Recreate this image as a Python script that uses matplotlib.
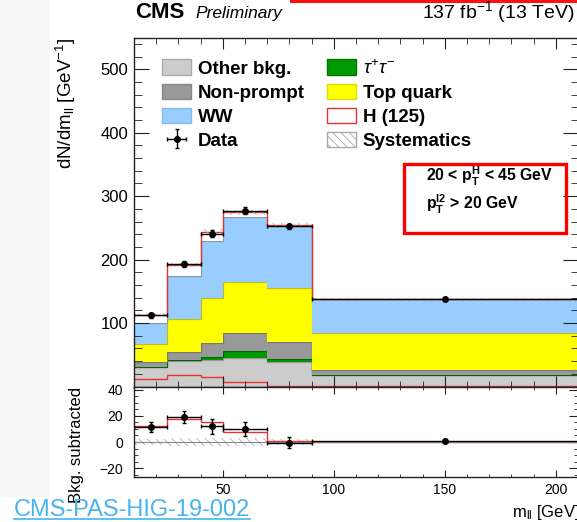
import numpy as np
import matplotlib.pyplot as plt
from matplotlib.patches import Patch, Rectangle
from matplotlib.lines import Line2D
from matplotlib.ticker import MultipleLocator

plt.rcParams['font.family'] = ['Liberation Sans', 'DejaVu Sans']
plt.rcParams['mathtext.fontset'] = 'custom'
plt.rcParams['mathtext.rm'] = 'Liberation Sans'
plt.rcParams['mathtext.it'] = 'Liberation Sans:italic'
plt.rcParams['mathtext.bf'] = 'Liberation Sans:bold'
plt.rcParams['hatch.linewidth'] = 0.6

# m_ll binning [GeV] and per-bin yields (dN/dm_ll)
edges = [10, 25, 40, 50, 70, 90, 210]
other = [31, 40, 42, 45, 38, 18]
tautau = [0.5, 1, 4, 11, 6, 0.5]
nonprompt = [7.5, 14, 23, 28, 25.5, 7.5]
top = [28, 52, 71, 80, 85, 58]
ww = [33.5, 67, 89, 103, 98.5, 53.5]
higgs = [12.5, 17.6, 15.1, 7.4, 1.0, 0.2]
data = [112, 193, 241, 277, 252.5, 138]
data_err = [3.5, 4.4, 5.7, 5.1, 4.2, 1.2]
syst = [2.5, 3, 3.5, 3.5, 3.5, 1.5]
syst_sub = [2.5, 3, 3, 3, 2.5, 0.3]

W, H = 577, 522
fx = lambda x: x / W
fy = lambda y: 1 - y / H

edges = np.array(edges, dtype=float)
centers = 0.5 * (edges[1:] + edges[:-1])
halfw = 0.5 * (edges[1:] - edges[:-1])

fig = plt.figure(figsize=(W / 100, H / 100), dpi=100)
fig.add_artist(Rectangle((0, fy(497)), fx(50), 497 / H, transform=fig.transFigure,
                         fc='#f7f7f7', lw=0, zorder=-5))

ax = fig.add_axes([fx(134), fy(386.5), (578 - 134) / W, (386.5 - 37.5) / H])
rax = fig.add_axes([fx(134), fy(477.3), (578 - 134) / W, (477.3 - 386.5) / H])

red = '#e8312f'
hatch = '\\\\\\\\'

# stacked backgrounds
stack = [(other, '#cccccc', '#9a9a9a'),
         (tautau, '#009900', '#006600'),
         (nonprompt, '#999999', '#777777'),
         (top, '#ffff00', '#bdbd2a'),
         (ww, '#99ccff', '#8098b0')]
base = np.zeros(len(centers))
for vals, fc, ec in stack:
    upper = base + np.array(vals)
    ax.stairs(upper, edges, baseline=base, fill=True, color=fc, lw=0)
    ax.stairs(upper, edges, baseline=None, color=ec, lw=0.9)
    base = upper
bkg = base.copy()

total = bkg + np.array(higgs)
ax.stairs(total, edges, baseline=bkg, fill=True, color='white', lw=0)
ax.stairs(total, edges, baseline=None, color=red, lw=1.0)
ax.stairs(total + np.array(syst), edges, baseline=total - np.array(syst), fill=True,
          facecolor='none', edgecolor='#b0b0b0', hatch=hatch, lw=0)
ax.stairs(higgs, edges, baseline=None, color=red, lw=1.0)

eb = ax.errorbar(centers, data, xerr=halfw, yerr=data_err, fmt='o', color='black',
                 ms=4, lw=1, capsize=1.5, zorder=5)

# bottom panel: data minus background
sub = np.array(data) - bkg
rax.stairs(np.array(syst_sub), edges, baseline=-np.array(syst_sub), fill=True,
           facecolor='none', edgecolor='#b0b0b0', hatch=hatch, lw=0)
rax.axhline(0, color='#888888', lw=0.8)
rax.stairs(higgs, edges, baseline=None, color=red, lw=1.0)
rax.errorbar(centers, sub, xerr=halfw, yerr=data_err, fmt='o', color='black',
             ms=4, lw=1, capsize=1.5, zorder=5)

for a in (ax, rax):
    a.set_xlim(10, 210)
    a.xaxis.set_major_locator(MultipleLocator(50))
    a.xaxis.set_minor_locator(MultipleLocator(10))
    a.tick_params(which='both', direction='in', top=True, right=True, color='#222222')
    for s in a.spines.values():
        s.set_linewidth(1.0)
        s.set_color('#222222')

ax.set_ylim(0, 550)
ax.set_yticks([100, 200, 300, 400, 500])
ax.yaxis.set_minor_locator(MultipleLocator(20))
ax.tick_params(axis='y', which='major', length=10.8, labelsize=12, pad=4)
ax.tick_params(axis='y', which='minor', length=5.4)
ax.tick_params(axis='x', which='major', length=8)
ax.tick_params(axis='x', which='minor', length=4)
ax.tick_params(axis='x', labelbottom=False)

rax.set_ylim(-27, 42.5)
rax.yaxis.set_major_locator(MultipleLocator(20))
rax.yaxis.set_minor_locator(MultipleLocator(5))
rax.tick_params(axis='y', which='major', length=6.5, labelsize=10, pad=8)
rax.tick_params(axis='y', which='minor', length=3.2)
rax.tick_params(axis='x', which='major', length=5, labelsize=10, pad=4)
rax.tick_params(axis='x', which='minor', length=2.5)

handles = [Patch(fc='#cccccc', ec='#aaaaaa'), Patch(fc='#999999', ec='#888888'),
           Patch(fc='#99ccff', ec='#88bbee'), eb,
           Patch(fc='#009900', ec='#007700'), Patch(fc='#ffff00', ec='#dddd00'),
           Patch(fc='white', ec=red), Patch(fc='white', ec='#aaaaaa', hatch=hatch)]
labels = ['Other bkg.', 'Non-prompt', 'WW', 'Data',
          r'$\tau^{+}\tau^{-}$', 'Top quark', 'H (125)', 'Systematics']
ax.legend(handles, labels, ncol=2, loc='upper left', frameon=False,
          bbox_to_anchor=(fx(162), fy(59)), bbox_transform=fig.transFigure,
          borderpad=0, borderaxespad=0, prop={'weight': 'bold', 'size': 13.5},
          handlelength=1.55, handleheight=0.9, handletextpad=0.35,
          labelspacing=0.31, columnspacing=1.2)

# header and labels
fig.text(fx(135), fy(18.3), 'CMS', fontweight='bold', fontsize=16, va='baseline')
fig.text(fx(195), fy(18.3), 'Preliminary', style='italic', fontsize=12.5, va='baseline')
fig.text(fx(498), fy(18.5), r'137 fb$^{-1}$ (13 TeV)', fontsize=14,
         ha='center', va='baseline', zorder=10)
fig.text(fx(66), fy(37.5), r'dN/dm$_{\rm ll}$ [GeV$^{-1}$]', rotation=90,
         ha='center', va='top', fontsize=13.5)
fig.text(fx(76), fy(386.5), 'Bkg. subtracted', rotation=90, ha='center', va='top',
         fontsize=12)
fig.text(fx(580), fy(517), r'm$_{\rm ll}$ [GeV]', ha='right', va='baseline', fontsize=12)

# phase-space box
fig.text(fx(426), fy(181.7), r'20 < p$_\mathbf{T}^\mathbf{H}$ < 45 GeV',
         fontweight='bold', fontsize=11.3, va='baseline')
fig.text(fx(426), fy(209), r'p$_\mathbf{T}^\mathbf{l2}$ > 20 GeV',
         fontweight='bold', fontsize=11.3, va='baseline')
fig.add_artist(Rectangle((fx(404), fy(232.7)), (566 - 404) / W, (232.7 - 164) / H,
                         transform=fig.transFigure, fill=False, ec='#ff0000', lw=2.4))
fig.add_artist(Rectangle((fx(290), fy(3)), (W - 290) / W, 3 / H,
                         transform=fig.transFigure, fc='#ff1010', lw=0))

# reference link
link = '#47b4ee'
fig.text(fx(14), fy(516), 'CMS-PAS-HIG-19-002', color=link, fontsize=17, va='baseline')
fig.add_artist(Line2D([fx(14), fx(250)], [fy(518.5), fy(518.5)],
                      transform=fig.transFigure, color=link, lw=1.2))

fig.savefig('out.png', dpi=100)
